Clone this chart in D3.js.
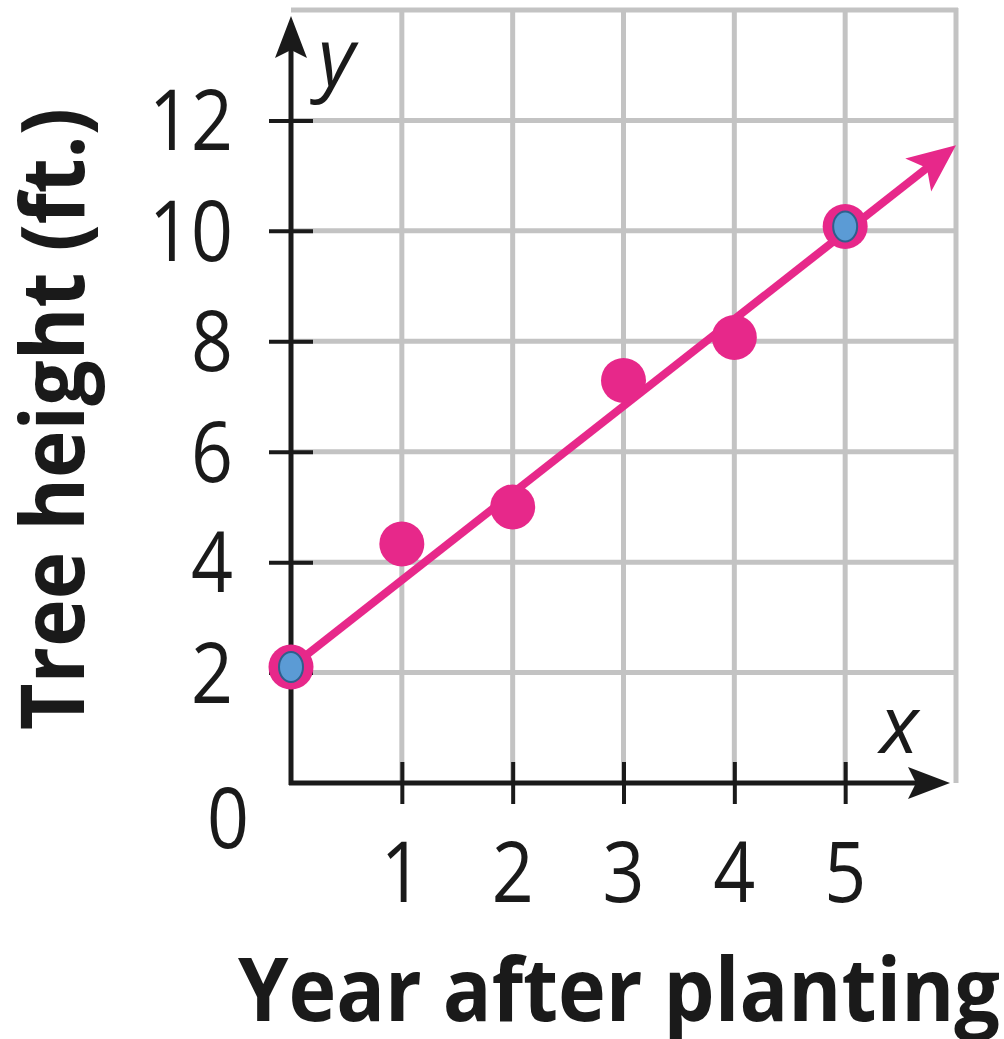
<!DOCTYPE html>
<html>
<head>
<meta charset="utf-8">
<script src="https://cdn.jsdelivr.net/npm/d3@7"></script>
<style>
  html, body { margin: 0; padding: 0; background: #fff; }
  svg { display: block; }
</style>
</head>
<body>
<svg id="chart" width="1004" height="1039"></svg>
<script>
// data
var years = [0, 1, 2, 3, 4, 5];
var heights = [2.1, 4.33, 5.0, 7.29, 8.07, 10.08];
var endpoint = [true, false, false, false, false, true];
var fitX = [0, 6];
var fitY = [2.1, 11.55];
var xTicks = [1, 2, 3, 4, 5];
var yTicks = [2, 4, 6, 8, 10, 12];
var gridX = [1, 2, 3, 4, 5, 6];
var gridY = [2, 4, 6, 8, 10, 12, 14];

var pink = "#e7288a";
var grey = "#c3c3c3";
var ink = "#1a1a1a";

var svg = d3.select("#chart");

var x = d3.scaleLinear().domain([0, 6]).range([291, 956]);
var y = d3.scaleLinear().domain([0, 14]).range([783, 10]);

// grid
var grid = svg.append("g");
grid.selectAll("line.gx").data(gridX).enter().append("line")
    .attr("x1", function (d) { return x(d); }).attr("x2", function (d) { return x(d); })
    .attr("y1", y(0)).attr("y2", y(14) - 2)
    .style("stroke", grey).style("stroke-width", 5);
grid.selectAll("line.gy").data(gridY).enter().append("line")
    .attr("x1", x(0)).attr("x2", x(6) + 2)
    .attr("y1", function (d) { return y(d); }).attr("y2", function (d) { return y(d); })
    .style("stroke", grey).style("stroke-width", 5);

// axes
var xAxis = d3.axisBottom(x).tickValues(xTicks).tickSize(0).tickFormat("");
var yAxis = d3.axisLeft(y).tickValues(yTicks).tickSize(0).tickFormat("");

var gx = svg.append("g").attr("transform", "translate(0," + y(0) + ")").call(xAxis);
gx.select(".domain").remove();
gx.selectAll(".tick line").attr("y1", -21).attr("y2", 21)
    .style("stroke", ink).style("stroke-width", 4);

var gy = svg.append("g").attr("transform", "translate(" + x(0) + ",0)").call(yAxis);
gy.select(".domain").remove();
gy.selectAll(".tick line").attr("x1", -22).attr("x2", 22)
    .style("stroke", ink).style("stroke-width", 4);

// axis lines with arrow heads
svg.append("path")
    .attr("d", "M" + (x(0) - 2) + "," + y(0) + "H" + 930)
    .style("stroke", ink).style("stroke-width", 5).style("fill", "none");
svg.append("path")
    .attr("d", "M" + x(0) + "," + (y(0) + 2) + "V" + 40)
    .style("stroke", ink).style("stroke-width", 5).style("fill", "none");
svg.append("path")
    .attr("transform", "translate(950," + y(0) + ")")
    .attr("d", "M0,0 L-42,-16 L-34,0 L-42,16 Z").style("fill", ink);
svg.append("path")
    .attr("transform", "translate(" + x(0) + ",16) rotate(-90)")
    .attr("d", "M0,0 L-42,-16 L-34,0 L-42,16 Z").style("fill", ink);

// tick labels
var numFont = "'Open Sans', 'Noto Sans', sans-serif";
svg.append("g").selectAll("text").data(yTicks).enter().append("text")
    .attr("x", 233).attr("y", function (d) { return y(d) + 30; })
    .attr("text-anchor", "end")
    .attr("textLength", function (d) { return String(d).length * 42; })
    .attr("lengthAdjust", "spacingAndGlyphs")
    .style("font-family", numFont).style("font-size", "84px").style("fill", ink)
    .text(function (d) { return d; });

svg.append("g").selectAll("text").data(xTicks).enter().append("text")
    .attr("x", function (d) { return x(d); }).attr("y", 902)
    .attr("text-anchor", "middle")
    .attr("textLength", 42)
    .attr("lengthAdjust", "spacingAndGlyphs")
    .style("font-family", numFont).style("font-size", "84px").style("fill", ink)
    .text(function (d) { return d; });

svg.append("text")
    .attr("x", 228).attr("y", 848).attr("text-anchor", "middle")
    .attr("textLength", 42).attr("lengthAdjust", "spacingAndGlyphs")
    .style("font-family", numFont).style("font-size", "84px").style("fill", ink)
    .text("0");

// axis letters
svg.append("text")
    .attr("x", 318).attr("y", 86)
    .style("font-family", numFont).style("font-style", "italic").style("font-size", "80px").style("fill", ink)
    .text("y");
svg.append("text")
    .attr("x", 880).attr("y", 753)
    .style("font-family", numFont).style("font-style", "italic").style("font-size", "80px").style("fill", ink)
    .text("x");

// axis titles
svg.append("text")
    .attr("x", 238).attr("y", 1021)
    .attr("textLength", 762).attr("lengthAdjust", "spacingAndGlyphs")
    .style("font-family", numFont).style("font-weight", "bold").style("font-size", "88px").style("fill", ink)
    .text("Year after planting");

svg.append("text")
    .attr("transform", "translate(84,730) rotate(-90)")
    .attr("textLength", 622).attr("lengthAdjust", "spacingAndGlyphs")
    .style("font-family", numFont).style("font-weight", "bold").style("font-size", "88px").style("fill", ink)
    .text("Tree height (ft.)");

// fitted line with arrow
var x0 = x(fitX[0]), y0 = y(fitY[0]), x1 = x(fitX[1]), y1 = y(fitY[1]);
var ang = Math.atan2(y1 - y0, x1 - x0);
var lineEnd = [x1 - 12 * Math.cos(ang), y1 - 12 * Math.sin(ang)];
svg.append("path")
    .attr("d", d3.line()([[x0, y0], lineEnd]))
    .style("stroke", pink).style("stroke-width", 8).style("fill", "none");
svg.append("path")
    .attr("transform", "translate(" + x1 + "," + y1 + ") rotate(" + (ang * 180 / Math.PI) + ")")
    .attr("d", "M0,0 L-48,-21 L-37,0 L-48,21 Z").style("fill", pink);

// points
var pts = years.map(function (d, i) { return { x: d, y: heights[i], end: endpoint[i] }; });
svg.append("g").selectAll("circle").data(pts).enter().append("circle")
    .attr("cx", function (d) { return x(d.x); })
    .attr("cy", function (d) { return y(d.y); })
    .attr("r", 22.5)
    .style("fill", pink);
svg.append("g").selectAll("ellipse").data(pts.filter(function (d) { return d.end; })).enter().append("ellipse")
    .attr("cx", function (d) { return x(d.x); })
    .attr("cy", function (d) { return y(d.y); })
    .attr("rx", 12).attr("ry", 15)
    .style("fill", "#5b9bd5").style("stroke", "#2f5f8c").style("stroke-width", 2);
</script>
</body>
</html>
